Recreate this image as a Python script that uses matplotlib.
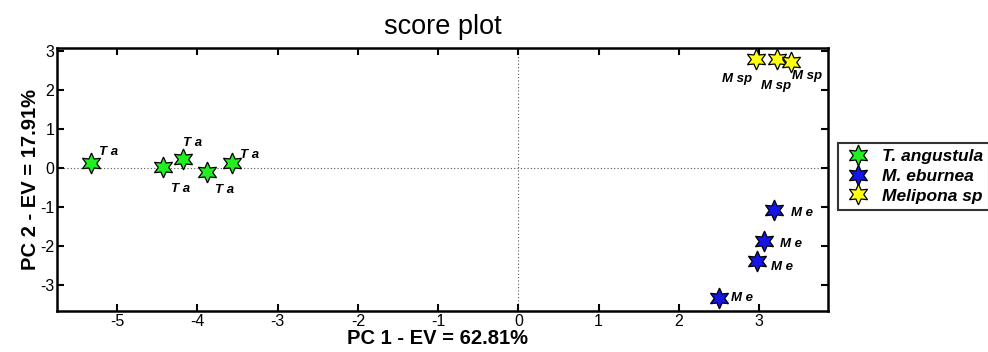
import matplotlib
matplotlib.use("Agg")
import matplotlib.pyplot as plt

plt.rcParams['font.family'] = ['Liberation Sans', 'DejaVu Sans']
plt.rcParams['axes.unicode_minus'] = False

# PCA scores
ta_x = [-5.33, -4.43, -4.18, -3.88, -3.57]
ta_y = [0.13, 0.04, 0.23, -0.10, 0.13]
me_x = [3.19, 3.06, 2.98, 2.50]
me_y = [-1.07, -1.86, -2.38, -3.33]
msp_x = [2.96, 3.23, 3.40]
msp_y = [2.79, 2.79, 2.73]

groups = ["T. angustula", "M. eburnea", "Melipona sp"]
short_names = ["T a", "M e", "M sp"]

# label offsets in points (dx, dy, ha)
ta_off = [(6, 8, 'left'), (6, -16, 'left'), (0, 12, 'left'), (6, -13, 'left'), (6, 6, 'left')]
me_off = [(12, -2, 'left'), (12, -2, 'left'), (10, -4, 'left'), (9, 0, 'left')]
msp_off = [(-3, -14, 'right'), (-1, -19, 'center'), (1, -10, 'left')]

fig = plt.figure(figsize=(9.88, 3.52), dpi=100)
ax = fig.add_axes([57 / 988, 1 - 311 / 352, (828 - 57) / 988, (311 - 48) / 352])

ax.axhline(0, color='#555555', linestyle=(0, (1, 2)), linewidth=0.8, zorder=1)
ax.axvline(0, color='#555555', linestyle=(0, (1, 2)), linewidth=0.8, zorder=1)

hexagram = (6, 1, 0)
colors = ['#22ee22', '#1515e6', '#ffff10']
series = [(ta_x, ta_y, ta_off), (me_x, me_y, me_off), (msp_x, msp_y, msp_off)]
for (xs, ys, offs), col, name, short in zip(series, colors, groups, short_names):
    ax.plot(xs, ys, linestyle='none', marker=hexagram, markersize=15,
            markerfacecolor=col, markeredgecolor='black', markeredgewidth=0.9,
            label=name, zorder=3)
    for x, y, (dx, dy, ha) in zip(xs, ys, offs):
        ax.annotate(short, (x, y), xytext=(dx, dy), textcoords='offset points',
                    ha=ha, va='center', fontsize=9.5, fontweight='bold',
                    fontstyle='italic', zorder=4)

ax.set_xlim(-5.75, 3.86)
ax.set_ylim(-3.66, 3.08)
ax.set_xticks(range(-5, 4))
ax.set_yticks(range(-3, 4))
ax.tick_params(direction='in', top=True, right=True, length=5, width=1.5,
               labelsize=11.5, pad=2)
for sp in ax.spines.values():
    sp.set_linewidth(1.8)

ax.set_xlabel("PC 1 - EV = 62.81%", fontsize=14.5, fontweight='bold')
ax.xaxis.set_label_coords(0.494, -(329 - 311) / 263)
ax.set_ylabel("PC 2 - EV = 17.91%", fontsize=14.5, fontweight='bold', labelpad=0)
ax.set_title("score plot", fontsize=19.5, pad=10)

leg = ax.legend(loc='upper left', bbox_to_anchor=(838 / 988, 1 - 143 / 352),
                bbox_transform=fig.transFigure, frameon=True, fancybox=False,
                borderpad=0.35, handletextpad=0.6, labelspacing=0.26,
                handlelength=1.6, borderaxespad=0,
                prop={'size': 12.5, 'weight': 'bold', 'style': 'italic'})
leg.get_frame().set_edgecolor('black')
leg.get_frame().set_linewidth(1.5)
for h in leg.legend_handles:
    h.set_markersize(15)

fig.savefig("out.png", dpi=100)
